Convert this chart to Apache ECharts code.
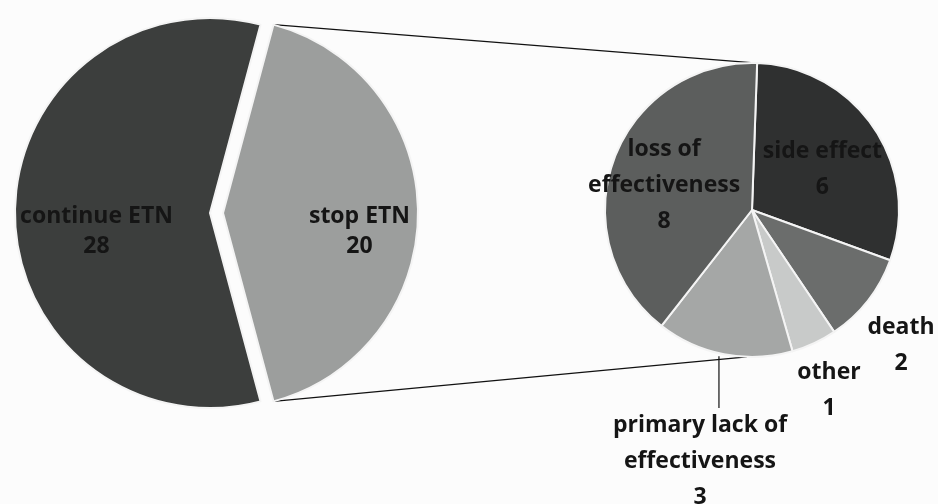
<!DOCTYPE html>
<html>
<head>
<meta charset="utf-8">
<script src="https://cdn.jsdelivr.net/npm/echarts@6/dist/echarts.min.js"></script>
<style>
html, body { margin: 0; padding: 0; background: #fcfcfc; }
#chart { width: 938px; height: 504px; }
</style>
</head>
<body>
<div id="chart"></div>
<script>
// data
var mainNames = ["stop ETN", "continue ETN"];
var mainValues = [20, 28];
var subNames = ["side effect", "death", "other", "primary lack of\neffectiveness", "loss of\neffectiveness"];
var subValues = [6, 2, 1, 3, 8];

// layout
var mainColors = ["#9c9e9d", "#3c3e3d"];
var subColors = ["#2f3030", "#6b6d6c", "#c8cac9", "#a5a7a6", "#5c5e5d"];
var mainC = [210, 213], mainR = 195, explode = 13;
var subC = [752, 210], subR = 147, subStart = 88;
var outerPos = { 1: [901, 345], 2: [829, 390], 3: [700, 461] };

var mainTotal = mainValues.reduce(function(a, b) { return a + b; }, 0);
var mainStart = mainValues[0] / mainTotal * 180;
var rad = Math.PI / 180;

var mainData = mainNames.map(function(n, i) {
    return { name: n, value: mainValues[i], selected: i === 0, itemStyle: { color: mainColors[i] } };
});
var subData = subNames.map(function(n, i) {
    var d = { name: n, value: subValues[i], itemStyle: { color: subColors[i] } };
    if (outerPos[i]) {
        d.label = { position: "outside" };
        d.labelLine = { show: i === 3, lineStyle: { color: "#111", width: 1.2 } };
    }
    return d;
});

// connector lines between stop ETN and the second pie
function pt(c, r, a, dx) {
    return [c[0] + (dx || 0) + r * Math.cos(a * rad), c[1] - r * Math.sin(a * rad)];
}
var t0 = pt(mainC, mainR, mainStart, explode), t1 = pt(subC, subR, subStart);
var b0 = pt(mainC, mainR, -mainStart, explode), b1 = pt(subC, subR, subStart - 180);

var labelFont = { fontFamily: "'Open Sans', Lato, sans-serif", fontWeight: "bold", fontSize: 23, color: "#151515" };

var chart = echarts.init(document.getElementById("chart"));
chart.setOption({
    animation: false,
    backgroundColor: "#fcfcfc",
    graphic: [
        { type: "line", z: 0, shape: { x1: t0[0], y1: t0[1], x2: t1[0], y2: t1[1] }, style: { stroke: "#111", lineWidth: 1.3 } },
        { type: "line", z: 0, shape: { x1: b0[0], y1: b0[1], x2: b1[0], y2: b1[1] }, style: { stroke: "#111", lineWidth: 1.3 } }
    ],
    series: [
        {
            type: "pie",
            center: mainC,
            radius: mainR,
            startAngle: mainStart,
            clockwise: true,
            selectedMode: "single",
            selectedOffset: explode,
            avoidLabelOverlap: false,
            emphasis: { disabled: true },
            itemStyle: { borderColor: "#f4f4f4", borderWidth: 2 },
            label: Object.assign({ position: "inside", formatter: "{b}\n{c}", lineHeight: 30, align: "center" }, labelFont),
            labelLine: { show: false },
            labelLayout: function(p) {
                return { dx: p.dataIndex === 0 ? 36 : -13, dy: 18 };
            },
            data: mainData
        },
        {
            type: "pie",
            center: subC,
            radius: subR,
            startAngle: subStart,
            clockwise: true,
            avoidLabelOverlap: false,
            emphasis: { disabled: true },
            itemStyle: { borderColor: "#f4f4f4", borderWidth: 2 },
            label: Object.assign({ position: "inside", formatter: "{b}\n{c}", lineHeight: 36, align: "center" }, labelFont),
            labelLine: { show: false },
            labelLayout: function(p) {
                var i = p.dataIndex;
                if (outerPos[i]) {
                    var o = { x: outerPos[i][0], y: outerPos[i][1], align: "center", verticalAlign: "middle" };
                    if (i === 3 && p.labelLinePoints) {
                        var s = p.labelLinePoints[0];
                        o.labelLinePoints = [[s[0] - 5, s[1] + 2], [s[0] - 5, outerPos[i][1] - 53]];
                    }
                    return o;
                }
                return i === 0 ? { dx: 7, dy: 2 } : { dx: -16, dy: 2 };
            },
            data: subData
        }
    ]
});
</script>
</body>
</html>
